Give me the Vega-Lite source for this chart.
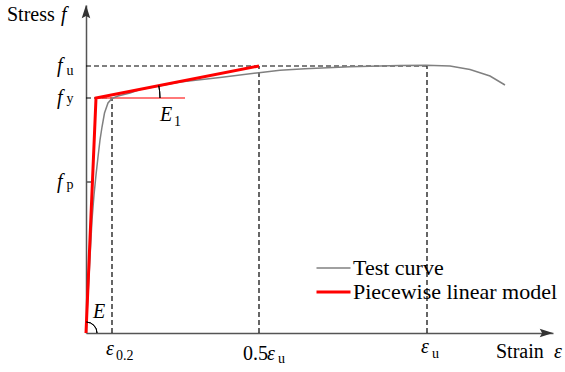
{
  "$schema": "https://vega.github.io/schema/vega-lite/v6.json",
  "width": 467,
  "height": 328,
  "autosize": {"type": "none"},
  "padding": {"left": 86, "top": 5, "right": 12, "bottom": 39},
  "background": "white",
  "config": {"view": {"stroke": null}, "font": "Liberation Serif"},
  "datasets": {
    "curves": [
      {"series": "Test curve", "x": 0, "y": 0},
      {"series": "Test curve", "x": 6, "y": 113},
      {"series": "Test curve", "x": 8, "y": 138},
      {"series": "Test curve", "x": 10, "y": 158},
      {"series": "Test curve", "x": 12, "y": 176},
      {"series": "Test curve", "x": 14, "y": 193},
      {"series": "Test curve", "x": 16, "y": 206},
      {"series": "Test curve", "x": 18.5, "y": 220},
      {"series": "Test curve", "x": 22, "y": 230},
      {"series": "Test curve", "x": 26, "y": 234.5},
      {"series": "Test curve", "x": 32, "y": 237},
      {"series": "Test curve", "x": 44, "y": 240},
      {"series": "Test curve", "x": 54, "y": 243.5},
      {"series": "Test curve", "x": 94, "y": 251},
      {"series": "Test curve", "x": 134, "y": 255.5},
      {"series": "Test curve", "x": 173, "y": 260.3},
      {"series": "Test curve", "x": 194, "y": 262.8},
      {"series": "Test curve", "x": 219, "y": 264.3},
      {"series": "Test curve", "x": 264, "y": 266.2},
      {"series": "Test curve", "x": 314, "y": 267.6},
      {"series": "Test curve", "x": 340, "y": 267.8},
      {"series": "Test curve", "x": 364, "y": 267},
      {"series": "Test curve", "x": 384, "y": 263.5},
      {"series": "Test curve", "x": 404, "y": 257},
      {"series": "Test curve", "x": 419, "y": 248},
      {"series": "Piecewise linear model", "x": 0, "y": 0},
      {"series": "Piecewise linear model", "x": 10, "y": 235},
      {"series": "Piecewise linear model", "x": 173, "y": 267}
    ],
    "guides": [
      {"name": "fu", "x": 0, "x2": 341, "y": 267, "y2": 267},
      {"name": "fy", "x": 0, "x2": 26, "y": 235, "y2": 235},
      {"name": "e02", "x": 26, "x2": 26, "y": 0, "y2": 235},
      {"name": "half_eu", "x": 173, "x2": 173, "y": 0, "y2": 267},
      {"name": "eu", "x": 341, "x2": 341, "y": 0, "y2": 267}
    ],
    "italic": [
      {"t": "f", "x": -25, "y": 312},
      {"t": "f", "x": -29, "y": 261},
      {"t": "f", "x": -29, "y": 229},
      {"t": "f", "x": -29, "y": 145},
      {"t": "ε", "x": 20, "y": -22},
      {"t": "ε", "x": 181, "y": -27},
      {"t": "ε", "x": 335, "y": -20},
      {"t": "E", "x": 7, "y": 15},
      {"t": "E", "x": 74, "y": 212},
      {"t": "ε", "x": 468, "y": -25}
    ],
    "upright": [
      {"t": "Stress", "x": -79, "y": 312},
      {"t": "Strain", "x": 410, "y": -25},
      {"t": "0.5", "x": 157, "y": -27}
    ],
    "subs": [
      {"t": "u", "x": -19.5, "y": 258},
      {"t": "y", "x": -19.5, "y": 230},
      {"t": "p", "x": -19.5, "y": 144},
      {"t": "0.2", "x": 30, "y": -27},
      {"t": "u", "x": 192, "y": -30},
      {"t": "u", "x": 346, "y": -25},
      {"t": "1", "x": 88, "y": 207}
    ]
  },
  "layer": [
    {
      "data": {"name": "guides"},
      "mark": {"type": "rule", "color": "black", "strokeWidth": 1.2, "strokeDash": [5, 3]},
      "encoding": {
        "x": {"field": "x", "type": "quantitative", "scale": {"domain": [0, 467], "nice": false, "zero": false},
              "axis": {"domain": true, "domainColor": "#555", "domainWidth": 1.5, "ticks": false, "labels": false, "title": null, "grid": false}},
        "x2": {"field": "x2"},
        "y": {"field": "y", "type": "quantitative", "scale": {"domain": [0, 328], "nice": false, "zero": false},
              "axis": {"domain": true, "domainColor": "#555", "domainWidth": 1.5, "ticks": false, "labels": false, "title": null, "grid": false}},
        "y2": {"field": "y2"}
      }
    },
    {
      "data": {"values": [{"x": 0, "x2": 7, "y": 151}]},
      "mark": {"type": "rule", "color": "#555", "strokeWidth": 1.5},
      "encoding": {
        "x": {"field": "x", "type": "quantitative"},
        "x2": {"field": "x2"},
        "y": {"field": "y", "type": "quantitative"}
      }
    },
    {
      "data": {"values": [{"x": 10, "x2": 99, "y": 235}]},
      "mark": {"type": "rule", "color": "#ff4d4d", "strokeWidth": 1.5},
      "encoding": {
        "x": {"field": "x", "type": "quantitative"},
        "x2": {"field": "x2"},
        "y": {"field": "y", "type": "quantitative"}
      }
    },
    {
      "data": {"name": "curves"},
      "mark": {"type": "line", "strokeJoin": "miter"},
      "encoding": {
        "x": {"field": "x", "type": "quantitative"},
        "y": {"field": "y", "type": "quantitative"},
        "color": {"field": "series", "type": "nominal",
          "scale": {"domain": ["Test curve", "Piecewise linear model"], "range": ["#808080", "#ff0000"]},
          "legend": {"orient": "none", "legendX": 236.5, "legendY": 252, "title": null, "symbolType": "M-2,0L2,0", "symbolSize": 289,
                     "labelFont": "Liberation Serif", "labelFontSize": 22, "labelColor": "black", "padding": 0, "rowPadding": 2, "labelOffset": 8.5, "labelLimit": 300}},
        "strokeWidth": {"field": "series", "type": "nominal",
          "scale": {"domain": ["Test curve", "Piecewise linear model"], "range": [1.5, 3]},
          "legend": {"orient": "none", "legendX": 236.5, "legendY": 252, "title": null, "symbolType": "M-2,0L2,0", "symbolSize": 289,
                     "labelFont": "Liberation Serif", "labelFontSize": 22, "labelColor": "black", "padding": 0, "rowPadding": 2, "labelOffset": 8.5, "labelLimit": 300}}
      }
    },
    {
      "data": {"values": [{"x": 0, "y": 0}]},
      "mark": {"type": "arc", "radius": 11, "radius2": 11, "theta": 0.0425, "theta2": 1.5708, "filled": false, "color": "black", "strokeWidth": 1},
      "encoding": {
        "x": {"field": "x", "type": "quantitative"},
        "y": {"field": "y", "type": "quantitative"}
      }
    },
    {
      "data": {"values": [{"x": 10, "y": 235}]},
      "mark": {"type": "arc", "radius": 64, "radius2": 64, "theta": 1.3773, "theta2": 1.5708, "filled": false, "color": "black", "strokeWidth": 1},
      "encoding": {
        "x": {"field": "x", "type": "quantitative"},
        "y": {"field": "y", "type": "quantitative"}
      }
    },
    {
      "data": {"values": [{"x": 0, "y": 328}]},
      "mark": {"type": "point", "shape": "M0,0L0.45,1.4L0,1.15L-0.45,1.4Z", "filled": true, "color": "#333", "opacity": 1, "size": 360, "strokeWidth": 0},
      "encoding": {
        "x": {"field": "x", "type": "quantitative"},
        "y": {"field": "y", "type": "quantitative"}
      }
    },
    {
      "data": {"values": [{"x": 467, "y": 0}]},
      "mark": {"type": "point", "shape": "M0,0L-1.4,-0.45L-1.15,0L-1.4,0.45Z", "filled": true, "color": "#333", "opacity": 1, "size": 360, "strokeWidth": 0},
      "encoding": {
        "x": {"field": "x", "type": "quantitative"},
        "y": {"field": "y", "type": "quantitative"}
      }
    },
    {
      "data": {"name": "italic"},
      "mark": {"type": "text", "font": "Liberation Serif", "fontStyle": "italic", "fontSize": 20, "align": "left", "baseline": "alphabetic", "color": "black"},
      "encoding": {
        "x": {"field": "x", "type": "quantitative"},
        "y": {"field": "y", "type": "quantitative"},
        "text": {"field": "t"}
      }
    },
    {
      "data": {"name": "upright"},
      "mark": {"type": "text", "font": "Liberation Serif", "fontSize": 20, "align": "left", "baseline": "alphabetic", "color": "black"},
      "encoding": {
        "x": {"field": "x", "type": "quantitative"},
        "y": {"field": "y", "type": "quantitative"},
        "text": {"field": "t"}
      }
    },
    {
      "data": {"name": "subs"},
      "mark": {"type": "text", "font": "Liberation Serif", "fontSize": 14, "align": "left", "baseline": "alphabetic", "color": "black"},
      "encoding": {
        "x": {"field": "x", "type": "quantitative"},
        "y": {"field": "y", "type": "quantitative"},
        "text": {"field": "t"}
      }
    }
  ]
}
